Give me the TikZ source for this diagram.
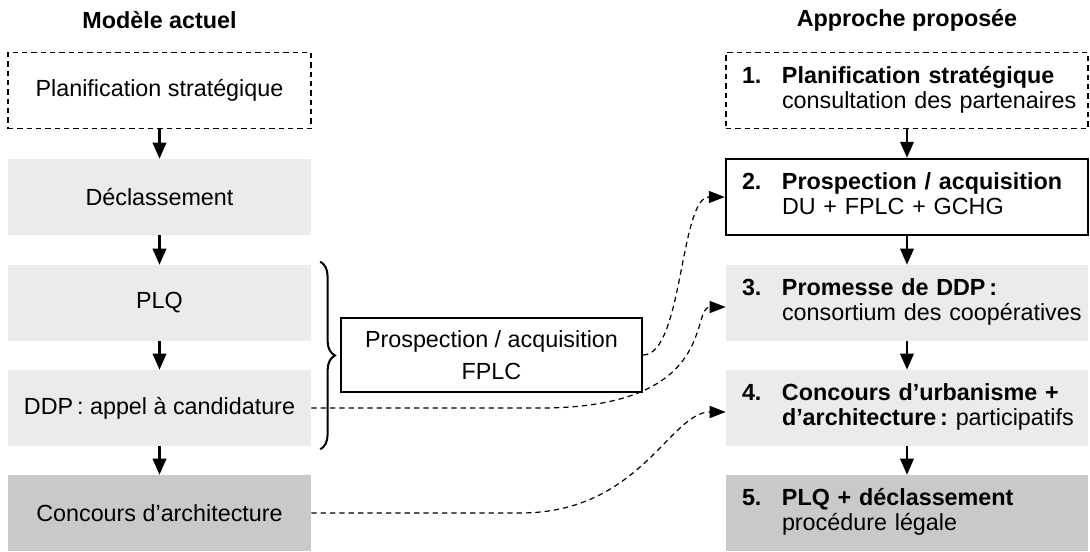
\documentclass[tikz,border=0pt]{standalone}
\usepackage{fontspec}
\setmainfont{Liberation Sans}
\usetikzlibrary{arrows.meta,decorations.pathreplacing}
\frenchspacing

\definecolor{boxlight}{HTML}{EBEBEB}
\definecolor{boxdark}{HTML}{C9C9C9}

\begin{document}
\begin{tikzpicture}[x=0.75pt, y=-0.75pt,
    every node/.style={font=\fontsize{17.5}{18.75}\selectfont},
    leftbox/.style={minimum width=227.25pt, minimum height=57pt, inner sep=0pt},
    rightbox/.style={minimum width=271.5pt, minimum height=57pt, inner xsep=12pt,
        inner ysep=0pt, text width=247.5pt, align=left},
    lightfill/.style={fill=boxlight},
    darkfill/.style={fill=boxdark},
    dashedbox/.style={draw, line width=0.9pt, dash pattern=on 4pt off 3pt},
    flow/.style={-{Triangle[length=12pt,width=10pt]}, line width=1.8pt},
    link/.style={-{Triangle[length=12pt,width=9pt]}, line width=0.9pt,
        dash pattern=on 4pt off 3pt}]

    % Define column positions
    \def\leftx{159.5}
    \def\rightx{907}

    % Define step text: number, first line, second line
    \def\steptext#1#2#3{\begin{tabular}{@{}p{30pt}@{}l@{}}\bfseries #1 & #2\\ & #3\end{tabular}}

    \useasboundingbox (0,0) rectangle (1090,551);

    % Current model
    \node (lefttitle) at (\leftx,20) {\bfseries Modèle actuel};
    \node[leftbox, dashedbox] (plan) at (\leftx,90.5) {Planification stratégique};
    \node[leftbox, lightfill] (decl) at (\leftx,197) {Déclassement};
    \node[leftbox, lightfill] (plq) at (\leftx,303) {PLQ};
    \node[leftbox, lightfill] (ddp) at (\leftx,408) {DDP\,: appel à candidature};
    \node[leftbox, darkfill] (concours) at (\leftx,513) {Concours d’architecture};

    \foreach \a/\b in {plan/decl, decl/plq, plq/ddp, ddp/concours}
        \draw[flow] (\a) -- (\b);

    % Proposed approach
    \node (righttitle) at (\rightx,20) {\bfseries Approche proposée};
    \node[rightbox, dashedbox] (s1) at (\rightx,90.5)
        {\steptext{1.}{\bfseries Planification stratégique}{consultation des partenaires}};
    \node[rightbox, draw, line width=1.8pt] (s2) at (\rightx,197)
        {\steptext{2.}{\bfseries Prospection / acquisition}{DU + FPLC + GCHG}};
    \node[rightbox, lightfill] (s3) at (\rightx,303)
        {\steptext{3.}{\bfseries Promesse de DDP\,:}{consortium des coopératives}};
    \node[rightbox, lightfill] (s4) at (\rightx,408)
        {\steptext{4.}{\bfseries Concours d’urbanisme +}{\textbf{d’architecture\,:} participatifs}};
    \node[rightbox, darkfill] (s5) at (\rightx,513)
        {\steptext{5.}{\bfseries PLQ + déclassement}{procédure légale}};

    \foreach \a/\b in {s1/s2, s2/s3, s3/s4, s4/s5}
        \draw[flow] (\a) -- (\b);

    % Brace and land box in between
    \draw[decorate, decoration={brace, amplitude=11pt}, line width=1.5pt]
        ([xshift=6.75pt, yshift=2.25pt]plq.north east) -- ([xshift=6.75pt, yshift=-2.25pt]ddp.south east);
    \node[draw, line width=1.5pt, minimum width=225.75pt, minimum height=55.5pt, align=center,
        font=\fontsize{17.5}{24}\selectfont] (fplc) at (491.5,355) {Prospection / acquisition\\FPLC};

    % Dashed links to the new steps
    \draw[link] (fplc.east) .. controls +(40,0) and +(-45,0) .. (s2.west);
    \draw[link] (ddp.east) -- ++(229,0) .. controls +(180,0) and +(-36,0) .. ([yshift=-3pt]s3.west);
    \draw[link] (concours.east) -- ++(209,0) .. controls +(120,0) and +(-56,0) .. ([yshift=-3pt]s4.west);
\end{tikzpicture}
\end{document}
